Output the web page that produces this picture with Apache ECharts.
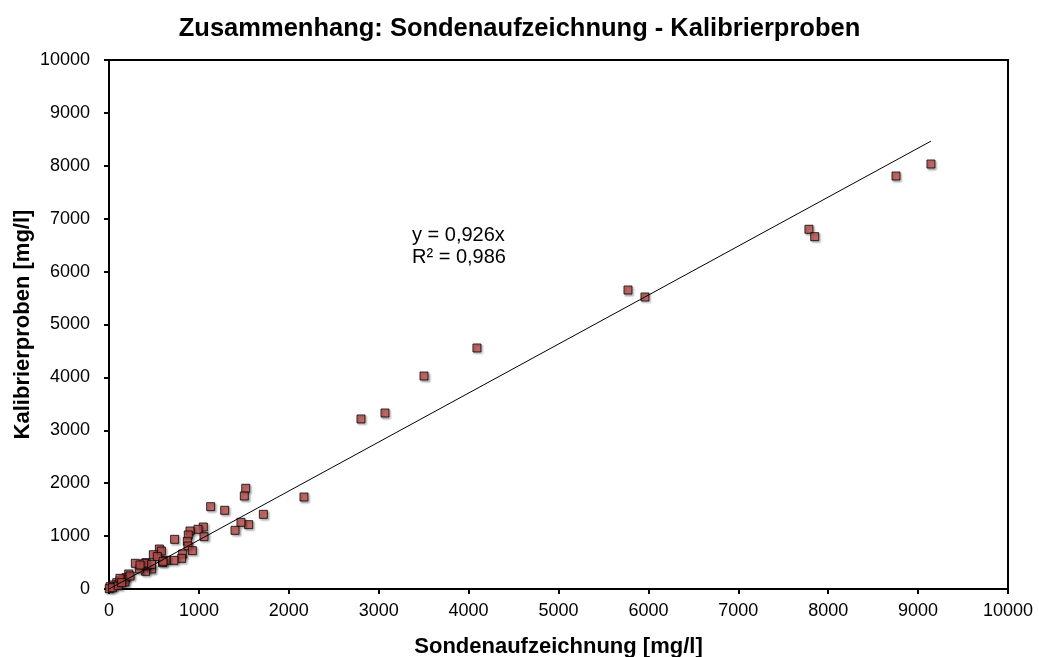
<!DOCTYPE html>
<html>
<head>
<meta charset="utf-8">
<title>Zusammenhang: Sondenaufzeichnung - Kalibrierproben</title>
<script src="https://cdn.jsdelivr.net/npm/echarts@6/dist/echarts.min.js"></script>
<style>
  html, body { margin: 0; padding: 0; background: #fff; }
  #chart { width: 1039px; height: 657px; }
</style>
</head>
<body>
<div id="chart"></div>
<script>
// Sondenaufzeichnung [mg/l] (x) gegen Kalibrierproben [mg/l] (y)
const sondeValues = [
  9143, 8754, 7786, 7850, 5773, 5962, 4093, 3504, 3070, 2803,
  2169, 1717, 1554, 1521, 1505, 1131, 1287, 1468, 1402, 1049,
  990, 901, 1057, 882, 871, 879, 927, 730, 820, 808,
  723, 634, 596, 560, 582, 493, 537, 474, 412, 408,
  337, 293, 418, 219, 189, 159, 178, 122, 86, 48,
  11, 3, 41, 103, 397, 474, 345, 601, 122, 234, 141
];
const kalibrierValues = [
  8034, 7807, 6800, 6660, 5652, 5520, 4556, 4026, 3327, 3214,
  1739, 1412, 1216, 1904, 1758, 1556, 1488, 1261, 1109, 1172,
  1129, 1096, 989, 1021, 902, 813, 724, 939, 662, 580,
  542, 542, 497, 756, 718, 648, 611, 378, 497, 335,
  378, 486, 440, 284, 214, 183, 132, 157, 119, 76,
  43, 6, 25, 62, 486, 467, 454, 523, 202, 246, 119
];

// Lineare Regression durch den Ursprung
const slope = 0.926;
const rSquared = 0.986;
const equationLines = ['y = 0,926x', 'R² = 0,986'];

const axisTicks = { min: 0, max: 10000, interval: 1000 };

const points = sondeValues.map((x, i) => [x, kalibrierValues[i]]);
const xMax = Math.max(...sondeValues);
const trend = [[0, 0], [xMax, slope * xMax]];

const font = 'Liberation Sans, Arial, sans-serif';
const plainNumber = v => String(v);

const chart = echarts.init(document.getElementById('chart'), null, { renderer: 'canvas' });
chart.setOption({
  animation: false,
  backgroundColor: '#fff',
  title: {
    text: 'Zusammenhang: Sondenaufzeichnung - Kalibrierproben',
    left: 'center',
    top: 11,
    textStyle: { fontFamily: font, fontSize: 25.5, fontWeight: 'bold', color: '#000' }
  },
  grid: {
    left: 109, right: 31, top: 60, bottom: 68,
    outerBoundsMode: 'none',
    containLabel: false,
    show: true, borderColor: '#000', borderWidth: 2, backgroundColor: '#fff'
  },
  xAxis: {
    type: 'value',
    min: axisTicks.min, max: axisTicks.max, interval: axisTicks.interval,
    name: 'Sondenaufzeichnung [mg/l]',
    nameLocation: 'middle',
    nameGap: 47,
    nameMoveOverlap: false,
    nameTextStyle: { fontFamily: font, fontSize: 22, fontWeight: 'bold', color: '#000' },
    axisLine: { show: true, onZero: false, lineStyle: { color: '#000', width: 2 } },
    axisTick: { show: true, inside: false, length: 5, lineStyle: { color: '#000', width: 2 } },
    axisLabel: { margin: 13, fontFamily: font, fontSize: 18, color: '#000', formatter: plainNumber },
    splitLine: { show: false }
  },
  yAxis: {
    type: 'value',
    min: axisTicks.min, max: axisTicks.max, interval: axisTicks.interval,
    name: 'Kalibrierproben [mg/l]',
    nameLocation: 'middle',
    nameGap: 75,
    nameRotate: 90,
    nameMoveOverlap: false,
    nameTextStyle: { fontFamily: font, fontSize: 22, fontWeight: 'bold', color: '#000' },
    axisLine: { show: true, onZero: false, lineStyle: { color: '#000', width: 2 } },
    axisTick: { show: true, inside: false, length: 5, lineStyle: { color: '#000', width: 2 } },
    axisLabel: { margin: 19, fontFamily: font, fontSize: 18, color: '#000', formatter: plainNumber },
    splitLine: { show: false }
  },
  graphic: [{
    type: 'text',
    left: 412,
    top: 224,
    style: {
      text: equationLines.join('\n'),
      fontFamily: font,
      fontSize: 20,
      lineHeight: 22,
      fill: '#000'
    }
  }],
  series: [
    {
      name: 'Messwerte',
      type: 'scatter',
      data: points,
      symbol: 'rect',
      symbolSize: 8,
      z: 2,
      itemStyle: {
        color: '#C0504D',
        borderColor: '#000',
        borderWidth: 1,
        shadowColor: 'rgba(0,0,0,0.35)',
        shadowBlur: 2,
        shadowOffsetX: 1.5,
        shadowOffsetY: 1.5
      }
    },
    {
      name: 'Trend',
      type: 'line',
      data: trend,
      showSymbol: false,
      symbol: 'none',
      z: 3,
      lineStyle: { color: '#000', width: 1 }
    }
  ]
});
</script>
</body>
</html>
